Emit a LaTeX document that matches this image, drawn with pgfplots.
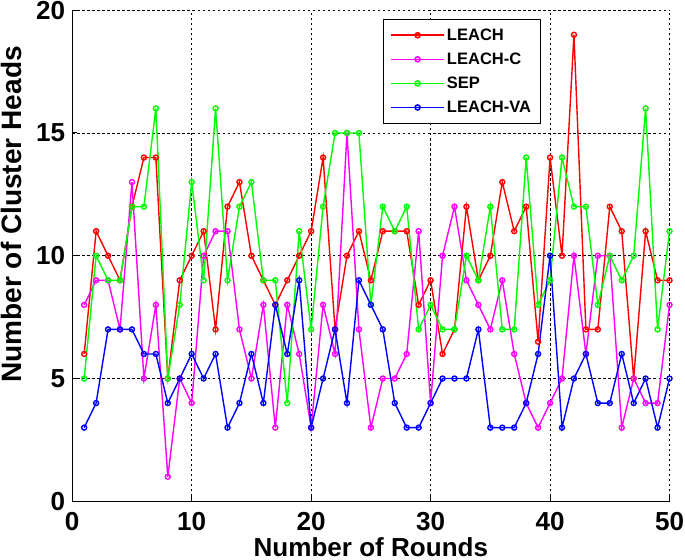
\documentclass[border=0pt]{standalone}
\usepackage{pgfplots}
\pgfplotsset{compat=1.18}
\usepackage{pgfplotstable}
\usepackage{fontspec}
\setmainfont{Liberation Sans}
\definecolor{cRed}{RGB}{255,0,0}
\definecolor{cMag}{RGB}{255,0,255}
\definecolor{cGrn}{RGB}{0,255,0}
\definecolor{cBlu}{RGB}{0,0,255}
\pgfplotstableread{
k red mag grn blu
1 6 8 5 3
2 11 9 10 4
3 10 9 9 7
4 9 7 9 7
5 12 13 12 7
6 14 5 12 6
7 14 8 16 6
8 5 1 5 4
9 9 5 8 5
10 10 4 13 6
11 11 10 9 5
12 7 11 16 6
13 12 11 9 3
14 13 7 12 4
15 10 5 13 6
16 9 8 9 4
17 8 3 9 8
18 9 8 4 6
19 10 6 11 9
20 11 3 7 3
21 14 8 12 5
22 7 6 15 7
23 10 15 15 4
24 11 7 15 9
25 9 3 8 8
26 11 5 12 7
27 11 5 11 4
28 11 6 12 3
29 8 11 7 3
30 9 4 8 4
31 6 10 7 5
32 7 12 7 5
33 12 9 10 5
34 9 8 9 7
35 10 7 12 3
36 13 9 7 3
37 11 6 7 3
38 12 4 14 4
39 6.5 3 8 6
40 14 4 9 10
41 10 5 14 3
42 19 10 12 5
43 7 6 12 6
44 7 10 8 4
45 12 10 10 4
46 11 3 9 6
47 5 5 10 4
48 11 4 16 5
49 9 4 7 3
50 9 8 11 5
}\data
\begin{document}
\begin{tikzpicture}
\begin{axis}[
  scale only axis,
  width=596pt, height=490pt,
  xmin=0, xmax=50, ymin=0, ymax=20,
  xtick={0,10,20,30,40,50}, ytick={0,5,10,15,20},
  axis x line*=bottom, axis y line*=left,
  axis line style={line width=1.3pt, -},
  tick align=inside,
  major tick length=5pt,
  grid=major,
  grid style={black, dash pattern=on 2.5pt off 2.5pt, line width=0.8pt},
  every tick/.style={black, line width=1pt},
  /pgf/number format/assume math mode=true,
  tick label style={font=\fontsize{26}{28}\selectfont\bfseries, inner sep=1pt},
  xticklabel style={yshift=-10pt},
  yticklabel style={xshift=-6pt},
  xlabel={Number of Rounds},
  ylabel={Number of Cluster Heads},
  xlabel style={font=\fontsize{26}{28}\selectfont\bfseries, at={(axis description cs:0.5,0)}, anchor=north, yshift=-34pt, inner xsep=1pt, inner ysep=2.5pt},
  ylabel style={font=\fontsize{28}{30}\selectfont\bfseries, at={(axis description cs:-0.102,0.584)}, anchor=center, inner sep=1pt},
  legend style={at={(0.52,0.9816)}, anchor=north west, draw=black, line width=0.9pt,
    font=\fontsize{16.5}{18}\selectfont\bfseries, row sep=7pt, inner xsep=7pt, inner ysep=7pt,
    cells={anchor=west}},
  legend cell align=left,
  legend image code/.code={\draw[line width=1.6pt, mark repeat=2,mark phase=2, #1] plot coordinates {(0cm,0cm) (0.93cm,0cm) (1.86cm,0cm)};},
  legend image post style={line width=1.6pt},
  every axis plot/.append style={line width=1.4pt, mark size=2.5pt},
]
\addplot[cRed, mark=o] table[x=k, y=red] {\data};
\addlegendentry{LEACH}
\addplot[cMag, mark=o] table[x=k, y=mag] {\data};
\addlegendentry{LEACH-C}
\addplot[cGrn, mark=o] table[x=k, y=grn] {\data};
\addlegendentry{SEP}
\addplot[cBlu, mark=o] table[x=k, y=blu] {\data};
\addlegendentry{LEACH-VA}
\end{axis}
\end{tikzpicture}
\end{document}
